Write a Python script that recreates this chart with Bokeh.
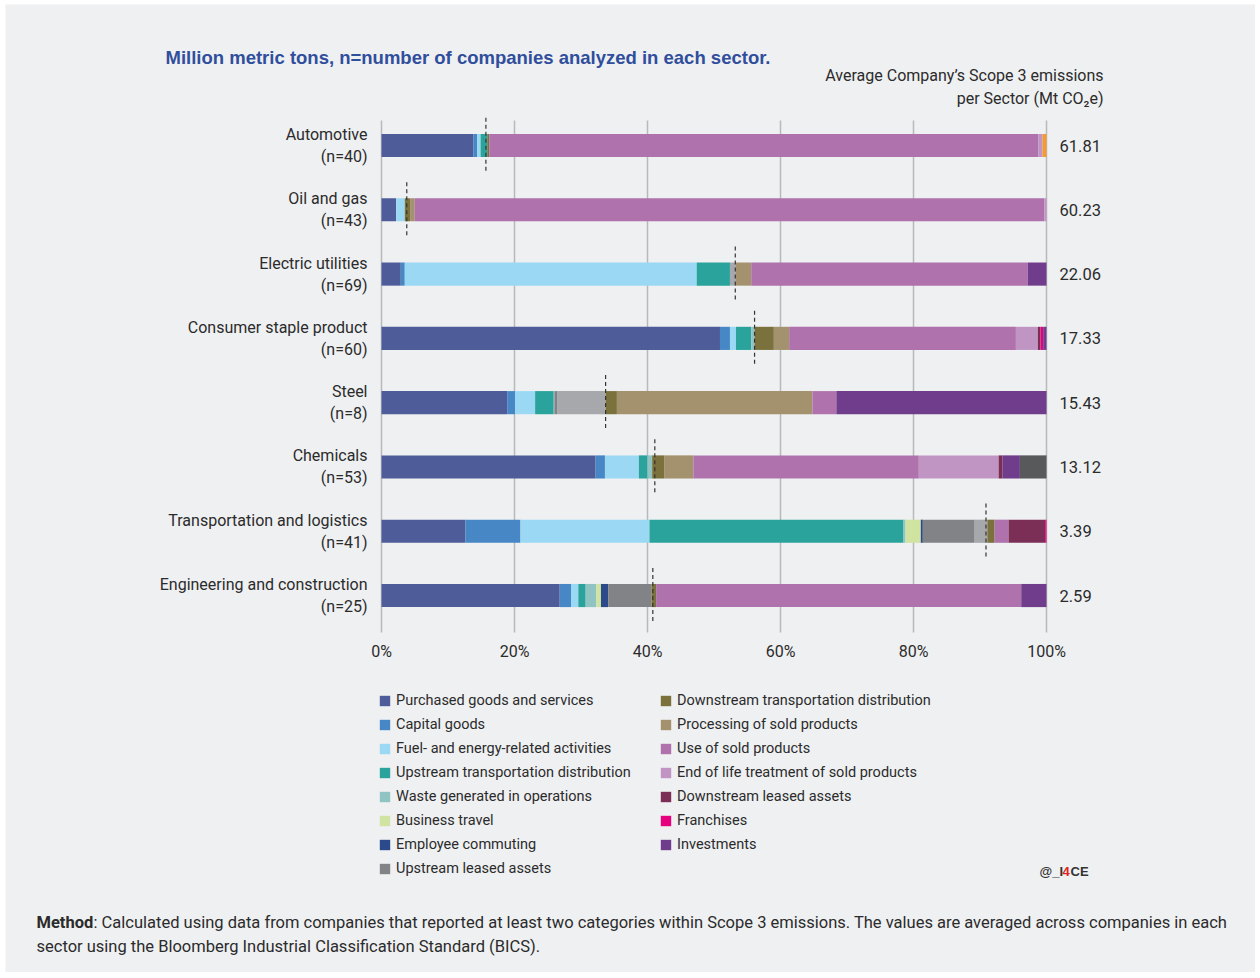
from bokeh.plotting import figure
from bokeh.models import (ColumnDataSource, Range1d, Label, Legend, LegendItem, LinearScale)
from bokeh.embed import file_html
from bokeh.resources import INLINE
from bokeh.core.properties import value

# ---------------- data ----------------
sectors = ["Automotive", "Oil and gas", "Electric utilities", "Consumer staple product",
           "Steel", "Chemicals", "Transportation and logistics", "Engineering and construction"]
n_companies = [40, 43, 69, 60, 8, 53, 41, 25]
avg_emissions = [61.81, 60.23, 22.06, 17.33, 15.43, 13.12, 3.39, 2.59]
upstream_share = [15.7, 3.8, 53.2, 56.1, 33.7, 41.1, 90.9, 40.8]

purchased = [13.8, 2.2, 2.9, 50.9, 18.9, 32.2, 12.6, 26.8]
capital = [0.6, 0.0, 0.6, 1.5, 1.2, 1.4, 8.3, 1.7]
fuel = [0.5, 1.3, 43.9, 0.9, 3.0, 5.1, 19.4, 1.1]
up_transport = [1.0, 0.0, 5.0, 2.3, 2.8, 1.3, 38.2, 1.1]
waste = [0.0, 0.0, 0.0, 0.5, 0.1, 0.7, 0.3, 1.6]
business_travel = [0.0, 0.0, 0.0, 0.0, 0.0, 0.0, 2.3, 0.7]
commuting = [0.0, 0.0, 0.0, 0.0, 0.0, 0.0, 0.3, 1.1]
up_leased = [0.0, 0.0, 0.0, 0.0, 0.4, 0.0, 7.8, 6.5]
other_upstream = [0.0, 0.0, 0.9, 0.0, 7.3, 0.0, 1.9, 0.0]
down_transport = [0.3, 0.8, 0.0, 2.9, 1.7, 1.8, 1.1, 0.7]
processing = [0.0, 0.7, 2.3, 2.3, 29.4, 4.4, 0.0, 0.0]
use_sold = [82.6, 94.7, 41.6, 34.1, 3.6, 33.9, 2.1, 54.9]
end_of_life = [0.6, 0.3, 0.0, 3.3, 0.0, 12.0, 0.0, 0.0]
down_leased = [0.0, 0.0, 0.0, 0.4, 0.0, 0.6, 5.5, 0.0]
franchises = [0.0, 0.0, 0.0, 0.4, 0.0, 0.0, 0.2, 0.0]
investments = [0.0, 0.0, 2.8, 0.5, 31.6, 2.6, 0.0, 3.8]
other_downstream = [0.0, 0.0, 0.0, 0.0, 0.0, 4.0, 0.0, 0.0]
other = [0.6, 0.0, 0.0, 0.0, 0.0, 0.0, 0.0, 0.0]

categories = ["Purchased goods and services", "Capital goods", "Fuel- and energy-related activities",
              "Upstream transportation distribution", "Waste generated in operations",
              "Business travel", "Employee commuting", "Upstream leased assets", "Other upstream",
              "Downstream transportation distribution", "Processing of sold products",
              "Use of sold products", "End of life treatment of sold products",
              "Downstream leased assets", "Franchises", "Investments", "Other downstream", "Other"]
series = [purchased, capital, fuel, up_transport, waste, business_travel, commuting, up_leased,
          other_upstream, down_transport, processing, use_sold, end_of_life, down_leased,
          franchises, investments, other_downstream, other]
colors = ["#4e5c9a", "#4787c5", "#9bd8f4", "#2ba39d", "#8fc4c2", "#d0e3a0", "#2a4a8c", "#828386",
          "#a7a8ab", "#7b713c", "#a3926d", "#b072ad", "#c095c4", "#7b2f57", "#e6007e", "#6f3d8c",
          "#58595b", "#f39a34"]
in_legend = [True] * 8 + [False] + [True] * 7 + [False, False]

tick_values = [0, 20, 40, 60, 80, 100]
tick_labels = ["0%", "20%", "40%", "60%", "80%", "100%"]

# ---------------- layout / styles ----------------
FONT = "Roboto"
SANS = "Liberation Sans"
BG = "#eff0f2"
TXT = "#2b2b2b"

FIG_LEFT, FIG_TOP, FIG_W, FIG_H = 5, 4, 1250, 968      # page position of the figure
X0_PAGE, PX_PER_PCT = 381, 6.65                          # 0 % line and scale
ROW0_PAGE, ROW_PX = 145, 64.29                           # first bar centre and row pitch
GRID_TOP, GRID_BOTTOM, TICK_Y = 120, 632, 651            # page y of grid extent and tick labels

x_start = (FIG_LEFT - X0_PAGE) / PX_PER_PCT
x_end = (FIG_LEFT + FIG_W - X0_PAGE) / PX_PER_PCT
y_bottom = (FIG_TOP + FIG_H - ROW0_PAGE) / ROW_PX
y_top = (FIG_TOP - ROW0_PAGE) / ROW_PX

rows = list(range(len(sectors)))
data = {"row": rows,
        "n_label": ["(n=%d)" % n for n in n_companies],
        "avg_label": ["%.2f" % v for v in avg_emissions],
        "sector": sectors,
        "upstream": upstream_share,
        "dash_lo": [r - 0.43 for r in rows],
        "dash_hi": [r + 0.43 for r in rows],
        "zero": [0] * len(sectors),
        "full": [100] * len(sectors)}
for c, s in zip(categories, series):
    data[c] = s
source = ColumnDataSource(data)

p = figure(width=FIG_W, height=FIG_H,
           x_range=Range1d(x_start, x_end), y_range=Range1d(y_bottom, y_top),
           output_backend="svg", toolbar_location=None, title=None,
           x_axis_location=None, y_axis_location=None,
           min_border=0, min_border_left=0, min_border_right=0, min_border_top=0, min_border_bottom=0)
p.margin = (FIG_TOP, 0, 0, FIG_LEFT)
p.background_fill_color = BG
p.border_fill_color = BG
p.outline_line_color = None
p.xgrid.visible = False
p.ygrid.visible = False

# page-pixel helper ranges for free texts
p.extra_x_ranges = {"px": Range1d(FIG_LEFT, FIG_LEFT + FIG_W)}
p.extra_y_ranges = {"py": Range1d(FIG_TOP + FIG_H, FIG_TOP)}
p.extra_x_scales = {"px": LinearScale()}
p.extra_y_scales = {"py": LinearScale()}

# grid lines and tick labels
tick_src = ColumnDataSource({"x": tick_values, "label": tick_labels,
                             "ytop": [GRID_TOP] * len(tick_values),
                             "ybot": [GRID_BOTTOM] * len(tick_values),
                             "ylab": [TICK_Y] * len(tick_values)})
p.segment(x0="x", x1="x", y0="ytop", y1="ybot", source=tick_src, y_range_name="py",
          line_color="#b8b9bb", line_width=1.5)
p.text(x="x", y="ylab", text="label", source=tick_src, y_range_name="py",
       text_align="center", text_baseline="middle", text_font=value(FONT),
       text_font_size="16px", text_color=TXT)

renderers = p.hbar_stack(categories, y="row", height=0.36, color=colors, source=source,
                         line_color=None)

p.segment(x0="upstream", y0="dash_lo", x1="upstream", y1="dash_hi", source=source,
          line_color="#333333", line_width=1.2, line_dash="4 3")

# sector labels (two lines)
p.text(x="zero", y="row", text="sector", source=source, x_offset=-14, y_offset=-11,
       text_align="right", text_baseline="middle", text_font=value(FONT),
       text_font_size="16px", text_color=TXT)
p.text(x="zero", y="row", text="n_label", source=source, x_offset=-14, y_offset=11,
       text_align="right", text_baseline="middle", text_font=value(FONT),
       text_font_size="16px", text_color=TXT)
# values at right
p.text(x="full", y="row", text="avg_label", source=source, x_offset=13,
       text_align="left", text_baseline="middle", text_font=value(FONT),
       text_font_size="16.5px", text_color=TXT)


def txt(x, y, text, size, color=TXT, align="left", font=FONT, style="normal"):
    p.add_layout(Label(x=x, y=y, text=text, x_range_name="px", y_range_name="py",
                       text_align=align, text_baseline="middle", text_font=font,
                       text_font_size=size, text_color=color, text_font_style=style))


txt(165, 57, "Million metric tons, n=number of companies analyzed in each sector.", "18.5px",
    color="#2f4e9c", font=SANS, style="bold")
txt(1103, 75, "Average Company\u2019s Scope 3 emissions", "16px", align="right")
txt(1103, 98, "per Sector (Mt CO\u2082e)", "16px", align="right")

txt(1039, 871, "@_I", "13px", color="#333333", font=SANS, style="bold")
txt(1062, 871, "4", "13px", color="#e2231a", font=SANS, style="bold")
txt(1070, 871, "CE", "13px", color="#333333", font=SANS, style="bold")

txt(36, 922, "Method", "16.5px", style="bold")
txt(93, 922, ": Calculated using data from companies that reported at least two categories within "
    "Scope 3 emissions. The values are averaged across companies in each", "16.5px")
txt(36, 946, "sector using the Bloomberg Industrial Classification Standard (BICS).", "16.5px")

# legend
items = [LegendItem(label=c, renderers=[r]) for c, r, keep in zip(categories, renderers, in_legend) if keep]
legend = Legend(items=items, location=(378 - FIG_LEFT, FIG_TOP + FIG_H - 878),
                orientation="vertical", nrows=8,
                padding=0, margin=0, spacing=4, glyph_width=13, glyph_height=13,
                label_standoff=5, label_height=20, label_width=259,
                label_text_font=FONT, label_text_font_size="14.5px", label_text_color=TXT,
                background_fill_alpha=0, border_line_color=None)
p.add_layout(legend, "center")

open("out.html", "w").write(file_html(p, INLINE))
